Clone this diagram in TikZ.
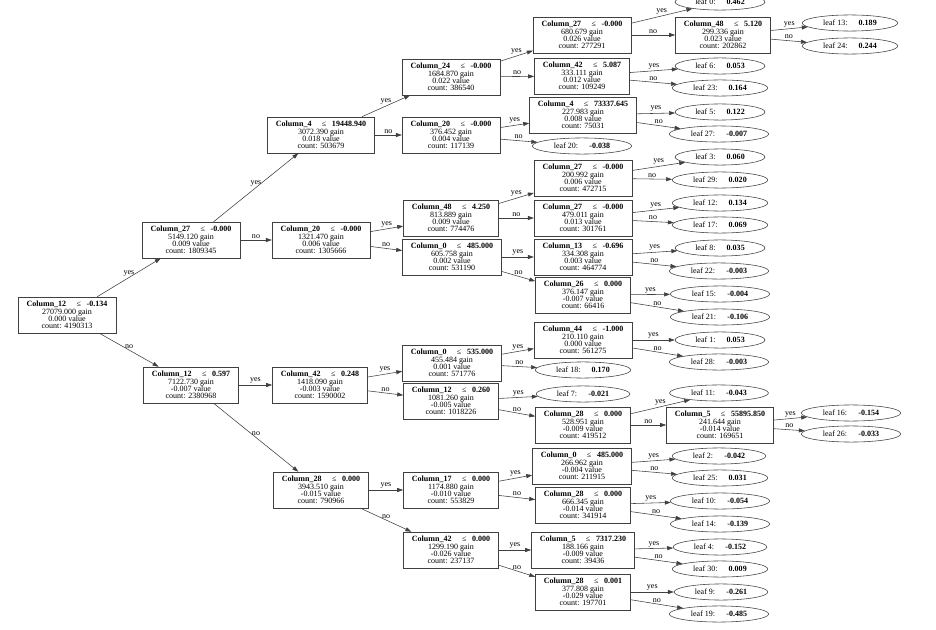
\documentclass[tikz,border=0pt]{standalone}
\usepackage{fontspec}
\setmainfont{Liberation Serif}
\usepackage{tikz}
\usetikzlibrary{arrows.meta,shapes.geometric}
\newcommand{\cond}[2]{\textbf{#1}\hspace{1.3em}≤\hspace{0.7em}\textbf{#2}}
\newcommand{\leafv}[2]{leaf #1:\hspace{1.4em}\textbf{#2}}

\begin{document}
\begin{tikzpicture}[x=0.025cm,y=-0.025cm,
  split/.style={draw=black!75,align=center,font=\fontsize{5.7}{5.2}\selectfont,inner xsep=6pt,inner ysep=2pt,minimum width=2.3cm,minimum height=0.9cm},
  leaf/.style={draw=black!75,ellipse,font=\fontsize{5.7}{6}\selectfont,inner xsep=5pt,inner ysep=2pt},
  link/.style={draw=black!75,line width=0.4pt,-{Triangle[length=1.5mm,width=1mm]}},
  lbl/.style={midway,above,inner sep=1pt,font=\fontsize{5.7}{6}\selectfont}]
  \useasboundingbox (0,0) rectangle (936,630);
  % split nodes
  \node[split] (s0) at (67,315) {\cond{Column\_12}{-0.134}\\27079.000 gain\\0.000 value\\count: 4190313};
  \node[split] (s1) at (191,240) {\cond{Column\_27}{-0.000}\\5149.120 gain\\0.009 value\\count: 1809345};
  \node[split] (s2) at (191,385) {\cond{Column\_12}{0.597}\\7122.730 gain\\-0.007 value\\count: 2380968};
  \node[split] (s3) at (321,135) {\cond{Column\_4}{19448.940}\\3072.390 gain\\0.018 value\\count: 503679};
  \node[split] (s4) at (321,240) {\cond{Column\_20}{-0.000}\\1321.470 gain\\0.006 value\\count: 1305666};
  \node[split] (s5) at (320,385) {\cond{Column\_42}{0.248}\\1418.090 gain\\-0.003 value\\count: 1590002};
  \node[split] (s6) at (321,490) {\cond{Column\_28}{0.000}\\3943.510 gain\\-0.015 value\\count: 790966};
  \node[split] (s7) at (451,77) {\cond{Column\_24}{-0.000}\\1684.870 gain\\0.022 value\\count: 386540};
  \node[split] (s8) at (451,135) {\cond{Column\_20}{-0.000}\\376.452 gain\\0.004 value\\count: 117139};
  \node[split] (s9) at (451,218) {\cond{Column\_48}{4.250}\\813.889 gain\\0.009 value\\count: 774476};
  \node[split] (s10) at (452,257) {\cond{Column\_0}{485.000}\\605.758 gain\\0.002 value\\count: 531190};
  \node[split] (s11) at (452,363) {\cond{Column\_0}{535.000}\\455.484 gain\\0.001 value\\count: 571776};
  \node[split] (s12) at (451,401) {\cond{Column\_12}{0.260}\\1081.260 gain\\-0.005 value\\count: 1018226};
  \node[split] (s13) at (451,490) {\cond{Column\_17}{0.000}\\1174.880 gain\\-0.010 value\\count: 553829};
  \node[split] (s14) at (451,550) {\cond{Column\_42}{0.000}\\1299.190 gain\\-0.026 value\\count: 237137};
  \node[split] (s15) at (582,35) {\cond{Column\_27}{-0.000}\\680.679 gain\\0.026 value\\count: 277291};
  \node[split] (s16) at (582,76) {\cond{Column\_42}{5.087}\\333.111 gain\\0.012 value\\count: 109249};
  \node[split] (s17) at (583,115) {\cond{Column\_4}{73337.645}\\227.983 gain\\0.008 value\\count: 75031};
  \node[split] (s18) at (583,178) {\cond{Column\_27}{-0.000}\\200.992 gain\\0.006 value\\count: 472715};
  \node[split] (s19) at (583,218) {\cond{Column\_27}{-0.000}\\479.011 gain\\0.013 value\\count: 301761};
  \node[split] (s20) at (583,257) {\cond{Column\_13}{-0.696}\\334.308 gain\\0.003 value\\count: 464774};
  \node[split] (s21) at (583,295) {\cond{Column\_26}{0.000}\\376.147 gain\\-0.007 value\\count: 66416};
  \node[split] (s22) at (583,340) {\cond{Column\_44}{-1.000}\\210.110 gain\\0.000 value\\count: 561275};
  \node[split] (s23) at (583,425) {\cond{Column\_28}{0.000}\\528.951 gain\\-0.009 value\\count: 419512};
  \node[split] (s24) at (582,466) {\cond{Column\_0}{485.000}\\266.962 gain\\-0.004 value\\count: 211915};
  \node[split] (s25) at (583,505) {\cond{Column\_28}{0.000}\\666.345 gain\\-0.014 value\\count: 341914};
  \node[split] (s26) at (583,550) {\cond{Column\_5}{7317.230}\\188.166 gain\\-0.009 value\\count: 39436};
  \node[split] (s27) at (583,592) {\cond{Column\_28}{0.001}\\377.808 gain\\-0.029 value\\count: 197701};
  \node[split] (s28) at (723,35) {\cond{Column\_48}{5.120}\\299.336 gain\\0.023 value\\count: 202862};
  \node[split] (s29) at (720,425) {\cond{Column\_5}{55895.850}\\241.644 gain\\-0.014 value\\count: 169651};
  % leaves
  \node[leaf] (l0) at (720,2) {\leafv{0}{0.462}};
  \node[leaf] (l6) at (720,66) {\leafv{6}{0.053}};
  \node[leaf] (l23) at (720,88) {\leafv{23}{0.164}};
  \node[leaf] (l5) at (720,112) {\leafv{5}{0.122}};
  \node[leaf] (l27) at (719,134) {\leafv{27}{-0.007}};
  \node[leaf] (l20) at (582,146) {\leafv{20}{-0.038}};
  \node[leaf] (l3) at (720,157) {\leafv{3}{0.060}};
  \node[leaf] (l29) at (720,180) {\leafv{29}{0.020}};
  \node[leaf] (l12) at (720,203) {\leafv{12}{0.134}};
  \node[leaf] (l17) at (720,225) {\leafv{17}{0.069}};
  \node[leaf] (l8) at (720,248) {\leafv{8}{0.035}};
  \node[leaf] (l22) at (719,271) {\leafv{22}{-0.003}};
  \node[leaf] (l15) at (720,294) {\leafv{15}{-0.004}};
  \node[leaf] (l21) at (720,317) {\leafv{21}{-0.106}};
  \node[leaf] (l1) at (720,340) {\leafv{1}{0.053}};
  \node[leaf] (l28) at (719,362) {\leafv{28}{-0.003}};
  \node[leaf] (l18) at (583,370) {\leafv{18}{0.170}};
  \node[leaf] (l7) at (583,394) {\leafv{7}{-0.021}};
  \node[leaf] (l11) at (719,393) {\leafv{11}{-0.043}};
  \node[leaf] (l2) at (719,456) {\leafv{2}{-0.042}};
  \node[leaf] (l25) at (720,478) {\leafv{25}{0.031}};
  \node[leaf] (l10) at (720,501) {\leafv{10}{-0.054}};
  \node[leaf] (l14) at (720,524) {\leafv{14}{-0.139}};
  \node[leaf] (l4) at (720,547) {\leafv{4}{-0.152}};
  \node[leaf] (l30) at (720,569) {\leafv{30}{0.009}};
  \node[leaf] (l9) at (721,592) {\leafv{9}{-0.261}};
  \node[leaf] (l19) at (719,614) {\leafv{19}{-0.485}};
  \node[leaf] (l13) at (850,23) {\leafv{13}{0.189}};
  \node[leaf] (l24) at (850,46) {\leafv{24}{0.244}};
  \node[leaf] (l16) at (851,413) {\leafv{16}{-0.154}};
  \node[leaf] (l26) at (851,434) {\leafv{26}{-0.033}};
  % edges
  \draw[link] (s0) -- node[lbl] {yes} (s1);  \draw[link] (s0) -- node[lbl] {no} (s2);
  \draw[link] (s1) -- node[lbl] {yes} (s3);  \draw[link] (s1) -- node[lbl] {no} (s4);
  \draw[link] (s2) -- node[lbl] {yes} (s5);  \draw[link] (s2) -- node[lbl] {no} (s6);
  \draw[link] (s3) -- node[lbl] {yes} (s7);  \draw[link] (s3) -- node[lbl] {no} (s8);
  \draw[link] (s4) -- node[lbl] {yes} (s9);  \draw[link] (s4) -- node[lbl] {no} (s10);
  \draw[link] (s5) -- node[lbl] {yes} (s11); \draw[link] (s5) -- node[lbl] {no} (s12);
  \draw[link] (s6) -- node[lbl] {yes} (s13); \draw[link] (s6) -- node[lbl] {no} (s14);
  \draw[link] (s7) -- node[lbl] {yes} (s15); \draw[link] (s7) -- node[lbl] {no} (s16);
  \draw[link] (s8) -- node[lbl] {yes} (s17); \draw[link] (s8) -- node[lbl] {no} (l20);
  \draw[link] (s9) -- node[lbl] {yes} (s18); \draw[link] (s9) -- node[lbl] {no} (s19);
  \draw[link] (s10) -- node[lbl] {yes} (s20); \draw[link] (s10) -- node[lbl] {no} (s21);
  \draw[link] (s11) -- node[lbl] {yes} (s22); \draw[link] (s11) -- node[lbl] {no} (l18);
  \draw[link] (s12) -- node[lbl] {yes} (l7);  \draw[link] (s12) -- node[lbl] {no} (s23);
  \draw[link] (s13) -- node[lbl] {yes} (s24); \draw[link] (s13) -- node[lbl] {no} (s25);
  \draw[link] (s14) -- node[lbl] {yes} (s26); \draw[link] (s14) -- node[lbl] {no} (s27);
  \draw[link] (s15) -- node[lbl] {yes} (l0);  \draw[link] (s15) -- node[lbl] {no} (s28);
  \draw[link] (s16) -- node[lbl] {yes} (l6);  \draw[link] (s16) -- node[lbl] {no} (l23);
  \draw[link] (s17) -- node[lbl] {yes} (l5);  \draw[link] (s17) -- node[lbl] {no} (l27);
  \draw[link] (s18) -- node[lbl] {yes} (l3);  \draw[link] (s18) -- node[lbl] {no} (l29);
  \draw[link] (s19) -- node[lbl] {yes} (l12); \draw[link] (s19) -- node[lbl] {no} (l17);
  \draw[link] (s20) -- node[lbl] {yes} (l8);  \draw[link] (s20) -- node[lbl] {no} (l22);
  \draw[link] (s21) -- node[lbl] {yes} (l15); \draw[link] (s21) -- node[lbl] {no} (l21);
  \draw[link] (s22) -- node[lbl] {yes} (l1);  \draw[link] (s22) -- node[lbl] {no} (l28);
  \draw[link] (s23) -- node[lbl] {yes} (l11); \draw[link] (s23) -- node[lbl] {no} (s29);
  \draw[link] (s24) -- node[lbl] {yes} (l2);  \draw[link] (s24) -- node[lbl] {no} (l25);
  \draw[link] (s25) -- node[lbl] {yes} (l10); \draw[link] (s25) -- node[lbl] {no} (l14);
  \draw[link] (s26) -- node[lbl] {yes} (l4);  \draw[link] (s26) -- node[lbl] {no} (l30);
  \draw[link] (s27) -- node[lbl] {yes} (l9);  \draw[link] (s27) -- node[lbl] {no} (l19);
  \draw[link] (s28) -- node[lbl] {yes} (l13); \draw[link] (s28) -- node[lbl] {no} (l24);
  \draw[link] (s29) -- node[lbl] {yes} (l16); \draw[link] (s29) -- node[lbl] {no} (l26);
\end{tikzpicture}
\end{document}
